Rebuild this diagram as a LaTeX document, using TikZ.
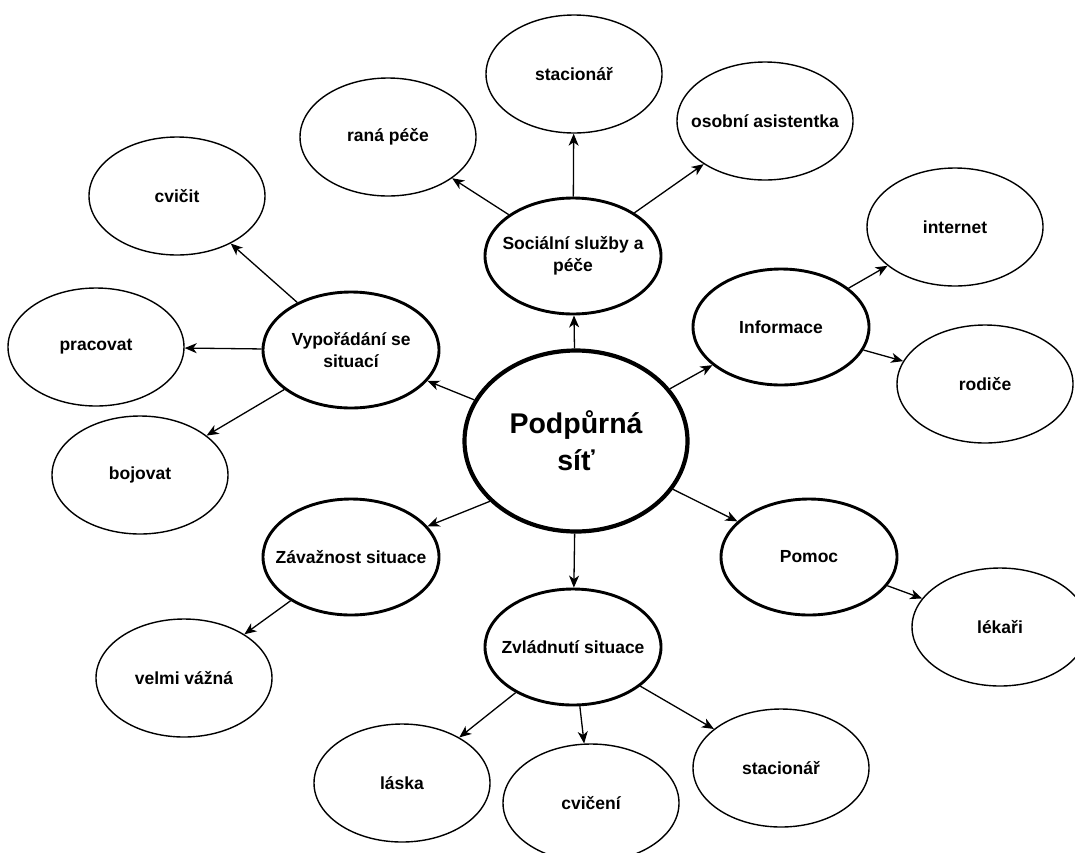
\documentclass[tikz,border=0pt]{standalone}
\usepackage{fontspec}
\setmainfont{Liberation Sans}
\usetikzlibrary{shapes.geometric,arrows.meta}
\tikzset{
  bub/.style={ellipse, draw=black, line width=1.4pt, fill=white, minimum width=176pt, minimum height=118pt, inner xsep=-40pt, inner ysep=0pt, align=center, font=\fontsize{17.5}{22}\selectfont\bfseries},
  hub/.style={bub, line width=2.9pt, minimum height=116pt},
  core/.style={bub, line width=4.2pt, minimum width=223pt, minimum height=181pt, font=\fontsize{28.5}{37}\selectfont\bfseries},
  link/.style={line width=1.3pt, -{Stealth[length=12pt, width=10pt, inset=3.5pt]}},
}
\begin{document}
\begin{tikzpicture}[x=1pt, y=-1pt]
\useasboundingbox (0,0) rectangle (1075,852);
\fill[white] (0,0) rectangle (1075,852);
% core
\node[core] (main) at (576,441) {Podpůrná\\síť};
% hubs
\node[hub] (soc) at (573,256) {Sociální služby a\\péče};
\node[hub] (vyp) at (351,350) {Vypořádání se\\situací};
\node[hub] (inf) at (781,327) {Informace};
\node[hub] (zav) at (351,557) {Závažnost situace};
\node[hub] (zvl) at (573,647) {Zvládnutí situace};
\node[hub] (pom) at (809,557) {Pomoc};
% leaves
\node[bub] (st1) at (574,74) {stacionář};
\node[bub] (rana) at (388,137) {raná péče};
\node[bub] (osob) at (765,121) {osobní asistentka};
\node[bub] (cvicit) at (177,196) {cvičit};
\node[bub] (prac) at (96,347) {pracovat};
\node[bub] (boj) at (140,475) {bojovat};
\node[bub] (intr) at (955,227) {internet};
\node[bub] (rod) at (985,384) {rodiče};
\node[bub] (velmi) at (184,678) {velmi vážná};
\node[bub] (laska) at (402,783) {láska};
\node[bub] (cvic) at (591,803) {cvičení};
\node[bub] (st2) at (781,768) {stacionář};
\node[bub] (lek) at (1000,627) {lékaři};
% connectors
\draw[link] (main) -- (soc);
\draw[link] (main) -- (vyp);
\draw[link] (main) -- (inf);
\draw[link] (main.215) -- (zav);
\draw[link] (main) -- (zvl);
\draw[link] (main) -- (pom);
\draw[link] (soc) -- (st1);
\draw[link] (soc) -- (rana);
\draw[link] (soc) -- (osob);
\draw[link] (vyp) -- (cvicit);
\draw[link] (vyp) -- (prac);
\draw[link] (vyp) -- (boj);
\draw[link] (inf) -- (intr);
\draw[link] (inf) -- (rod);
\draw[link] (zav) -- (velmi);
\draw[link] (zvl) -- (laska);
\draw[link] (zvl) -- (cvic);
\draw[link] (zvl) -- (st2);
\draw[link] (pom) -- (lek);
\end{tikzpicture}
\end{document}
